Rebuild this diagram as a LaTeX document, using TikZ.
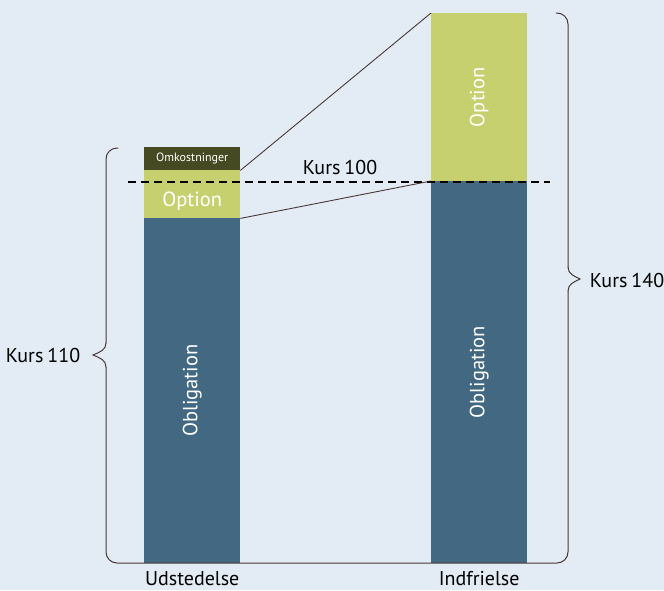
\documentclass[tikz,border=0pt]{standalone}
\usepackage{fontspec}
\setmainfont{PT Sans}
\definecolor{bg}{HTML}{E3ECF4}
\definecolor{blu}{HTML}{426981}
\definecolor{grn}{HTML}{C6D06F}
\definecolor{olv}{HTML}{464A22}
\definecolor{brn}{HTML}{4A3838}
\newcommand{\kurs}[1]{Kurs\kern4pt #1}
\begin{document}
\begin{tikzpicture}[x=1pt,y=-1pt,
  bar/.style={draw=none,inner sep=0pt,anchor=north west,minimum width=96pt},
  inlbl/.style={text=white,inner sep=0pt,font=\fontsize{20.5}{20.5}\selectfont},
  lbl/.style={text=black,inner sep=0pt,font=\fontsize{20}{20}\selectfont},
  conn/.style={draw=brn,line width=0.9pt},
  brace/.style={draw=brn,line width=1pt,line cap=round}]
\fill[bg] (0,0) rectangle (664,590);
\useasboundingbox (0,0) rectangle (664,590);
% bars
\node[bar,fill=blu,minimum height=345pt] (obl1) at (144,218) {};
\node[bar,fill=grn,minimum height=48pt] (opt1) at (144,170) {};
\node[bar,fill=olv,minimum height=23pt] (omk) at (144,147) {};
\node[bar,fill=blu,minimum height=382pt] (obl2) at (431,181) {};
\node[bar,fill=grn,minimum height=168pt] (opt2) at (431,13) {};
% bar texts
\node[inlbl,rotate=90] (t1) at (obl1.center) {Obligation};
\node[inlbl] (t2) at ([yshift=-7pt]opt1.center) {Option};
\node[inlbl,font=\fontsize{12}{12}\selectfont] (t3) at (omk.center) {Omkostninger};
\node[inlbl,rotate=90] (t4) at (obl2.center) {Obligation};
\node[inlbl,rotate=90] (t5) at (opt2.center) {Option};
% connectors
\draw[conn] (omk.south east) -- (opt2.north west);
\draw[conn] (opt1.south east) -- (obl2.north west);
% dashed line
\coordinate (dl) at (128,182);
\coordinate (dr) at (550,182);
\draw[line width=2.2pt,dash pattern=on 8pt off 5pt] (dl) -- (dr);
\node[lbl] (k100) at (340,167) {\kurs{100}};
% braces
\draw[brace,rounded corners=11pt] (118,148) -- (106,148) -- (106,343);
\draw[brace] (106,343) .. controls (106,350) and (100,352) .. (93,355)
  .. controls (100,358) and (106,360) .. (106,367);
\draw[brace,rounded corners=11pt] (106,367) -- (106,563) -- (568,563) -- (568,291);
\draw[brace] (568,291) .. controls (568,284) and (574,282) .. (580,279)
  .. controls (574,276) and (568,274) .. (568,267);
\draw[brace,rounded corners=11pt] (568,267) -- (568,13) -- (556,13);
\node[lbl] (k110) at (43,355) {\kurs{110}};
\node[lbl] (k140) at (627,280) {\kurs{140}};
\node[lbl] (ud) at (obl1.south |- 0,579) {Udstedelse};
\node[lbl] (ind) at (obl2.south |- 0,579) {Indfrielse};
\end{tikzpicture}
\end{document}
